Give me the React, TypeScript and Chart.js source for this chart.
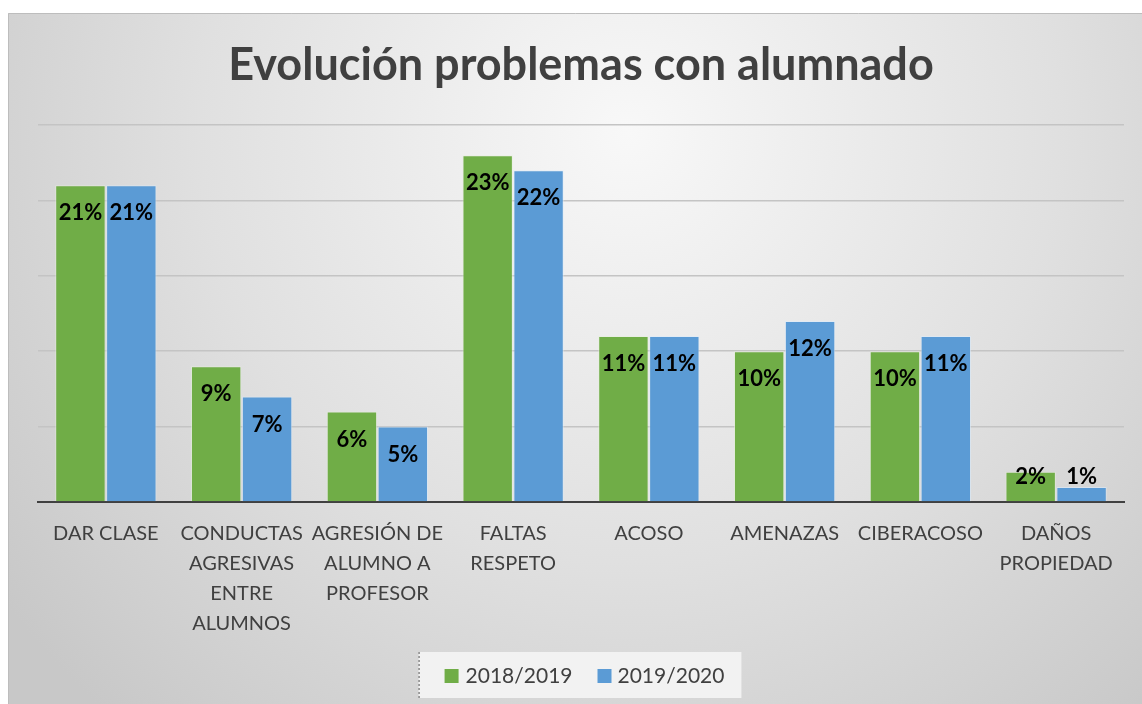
import React, { useEffect, useRef } from "react";
import { Chart, registerables } from "chart.js";

Chart.register(...registerables);

const categories: string[][] = [
  ["DAR CLASE"],
  ["CONDUCTAS", "AGRESIVAS", "ENTRE", "ALUMNOS"],
  ["AGRESIÓN DE", "ALUMNO A", "PROFESOR"],
  ["FALTAS", "RESPETO"],
  ["ACOSO"],
  ["AMENAZAS"],
  ["CIBERACOSO"],
  ["DAÑOS", "PROPIEDAD"],
];
const series2018: number[] = [21, 9, 6, 23, 11, 10, 10, 2];
const series2019: number[] = [21, 7, 5, 22, 11, 12, 11, 1];
const seriesLabels: string[] = ["2018/2019", "2019/2020"];
const seriesColors: string[] = ["#70ad47", "#5b9bd5"];
const titleText = "Evolución problemas con alumnado";

const FONT = "Lato, 'Open Sans', sans-serif";
const W = 1134;
const H = 691;

const bgPlugin = {
  id: "bg",
  beforeDraw(chart: any) {
    const ctx = chart.ctx as CanvasRenderingContext2D;
    ctx.save();
    const g = ctx.createRadialGradient(620, 120, 0, 620, 120, 780);
    g.addColorStop(0, "#f8f8f8");
    g.addColorStop(0.55, "#e0e0e0");
    g.addColorStop(1, "#c8c8c8");
    ctx.fillStyle = g;
    ctx.fillRect(0, 0, chart.width, chart.height);
    ctx.strokeStyle = "#bdbdbd";
    ctx.lineWidth = 1;
    ctx.beginPath();
    ctx.moveTo(0.5, chart.height);
    ctx.lineTo(0.5, 0.5);
    ctx.lineTo(chart.width, 0.5);
    ctx.stroke();
    ctx.restore();
  },
};

const labelPlugin = {
  id: "vals",
  afterDatasetsDraw(chart: any) {
    const ctx = chart.ctx as CanvasRenderingContext2D;
    ctx.save();
    ctx.font = `bold 22px ${FONT}`;
    ctx.fillStyle = "#000000";
    ctx.textAlign = "center";
    ctx.textBaseline = "middle";
    chart.data.datasets.forEach((ds: any, di: number) => {
      const meta = chart.getDatasetMeta(di);
      meta.data.forEach((el: any, i: number) => {
        const y = Math.min(el.y + 28, el.base - 24);
        ctx.fillText(`${ds.data[i]}%`, el.x, y);
      });
    });
    ctx.restore();
  },
};

const legendPlugin = {
  id: "customLegend",
  afterDraw(chart: any) {
    const ctx = chart.ctx as CanvasRenderingContext2D;
    ctx.save();
    ctx.font = `21px ${FONT}`;
    const w0 = ctx.measureText(seriesLabels[0]).width;
    const w1 = ctx.measureText(seriesLabels[1]).width;
    const inner = 14 + 7 + w0 + 25 + 14 + 6 + w1;
    const boxW = 26 + inner + 17;
    const boxL = 572 - boxW / 2;
    const boxT = 639;
    const boxH = 46;
    ctx.fillStyle = "#f2f2f2";
    ctx.fillRect(boxL, boxT, boxW, boxH);
    ctx.strokeStyle = "#555555";
    ctx.setLineDash([2, 2]);
    ctx.lineWidth = 1;
    ctx.beginPath();
    ctx.moveTo(boxL + 0.5, boxT);
    ctx.lineTo(boxL + 0.5, boxT + boxH);
    ctx.stroke();
    ctx.setLineDash([]);
    const cy = boxT + 24;
    let x = boxL + 26;
    ctx.textBaseline = "middle";
    ctx.textAlign = "left";
    [w0, w1].forEach((w, i) => {
      ctx.fillStyle = seriesColors[i];
      ctx.fillRect(x, cy - 7, 14, 14);
      x += 14 + (i === 0 ? 7 : 6);
      ctx.fillStyle = "#404040";
      ctx.fillText(seriesLabels[i], x, cy);
      x += w + 25;
    });
    ctx.restore();
  },
};

export default function App() {
  const ref = useRef<HTMLCanvasElement | null>(null);
  useEffect(() => {
    if (!ref.current) return;
    const chart = new Chart(ref.current, {
      type: "bar",
      data: {
        labels: categories,
        datasets: [
          {
            label: seriesLabels[0],
            data: series2018,
            backgroundColor: seriesColors[0],
            borderColor: "rgba(230,240,220,0.6)",
            borderWidth: 1,
            categoryPercentage: 0.75,
            barPercentage: 0.99,
          },
          {
            label: seriesLabels[1],
            data: series2019,
            backgroundColor: seriesColors[1],
            borderColor: "rgba(220,235,250,0.6)",
            borderWidth: 1,
            categoryPercentage: 0.75,
            barPercentage: 0.99,
          },
        ],
      },
      options: {
        responsive: false,
        devicePixelRatio: 1,
        animation: false,
        layout: { padding: { left: 30, right: 18, top: 0, bottom: 68 } },
        plugins: {
          legend: { display: false },
          tooltip: { enabled: false },
          title: {
            display: true,
            text: titleText,
            color: "#404040",
            font: { family: FONT, size: 45, weight: "bold", lineHeight: 1.2 },
            padding: { top: 25, bottom: 33 },
          },
        },
        scales: {
          x: {
            grid: { display: false, drawTicks: false },
            border: { display: true, color: "#404040", width: 2 },
            ticks: {
              color: "#404040",
              font: { family: FONT, size: 20, lineHeight: 1.5 },
              padding: 17,
              maxRotation: 0,
              autoSkip: false,
            },
            afterFit: (scale: any) => {
              scale.height = 134;
            },
          },
          y: {
            min: 0,
            max: 25,
            ticks: { display: false, stepSize: 5 },
            grid: { color: "#c4c4c4", lineWidth: 1.5, drawTicks: false },
            border: { display: false },
          },
        },
      },
      plugins: [bgPlugin, labelPlugin, legendPlugin],
    });
    return () => chart.destroy();
  }, []);
  return (
    <div style={{ position: "fixed", left: 8, top: 13, width: W, height: H }}>
      <canvas ref={ref} width={W} height={H} style={{ display: "block" }} />
    </div>
  );
}
